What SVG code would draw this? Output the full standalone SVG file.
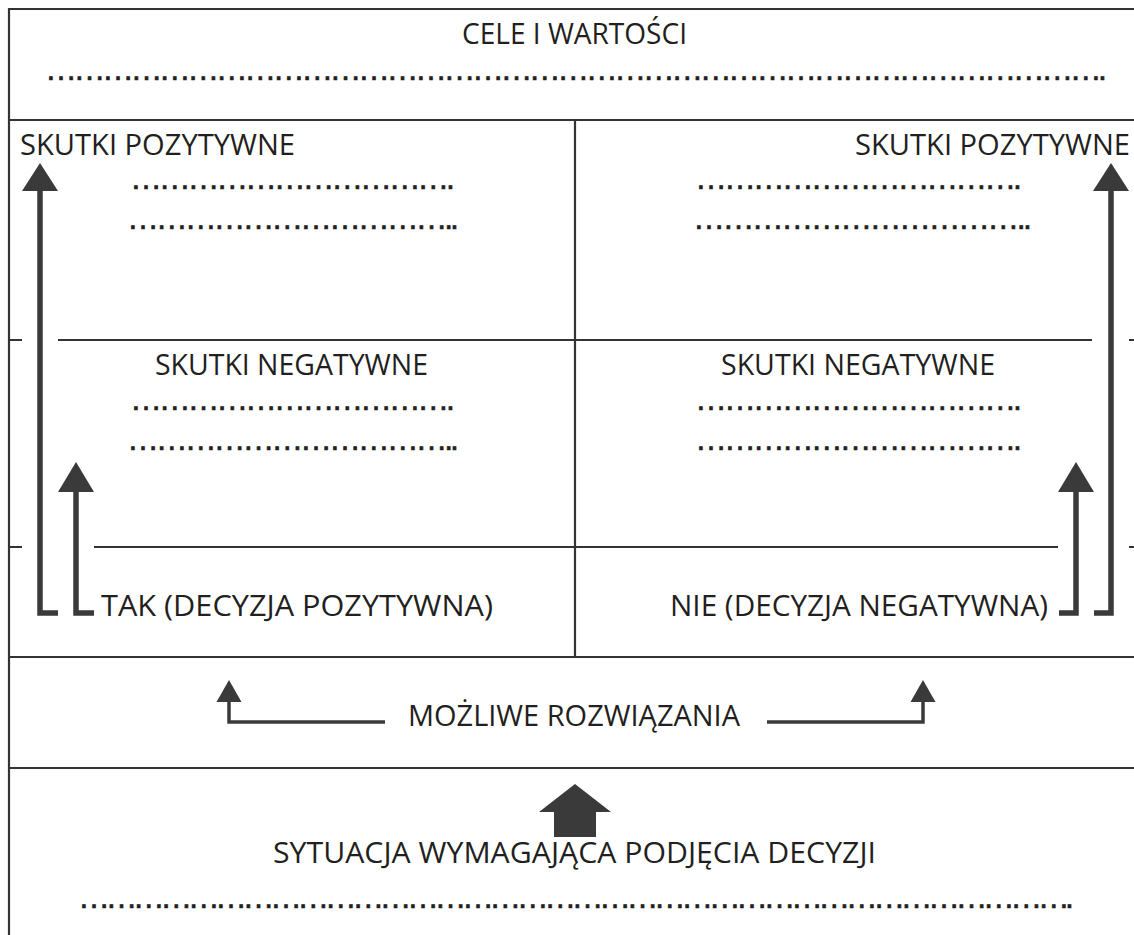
<svg xmlns="http://www.w3.org/2000/svg" width="1134" height="935" viewBox="0 0 1134 935">
<style>
.ln{stroke:#333;stroke-width:2.2;fill:none}
.ar{stroke:#3a3a3a;stroke-width:5.5;fill:none;stroke-linejoin:miter}
.ars{stroke:#3a3a3a;stroke-width:3.5;fill:none;stroke-linejoin:miter}
.hd{fill:#3a3a3a}
.t{font-family:"Open Sans","Noto Sans",sans-serif;font-size:28.5px;fill:#231f20}
.d{font-family:"Liberation Sans",Arial,sans-serif;font-size:32px;fill:#231f20;stroke:#231f20;stroke-width:0.6}
</style>
<rect width="1134" height="935" fill="#fff"/>
<g id="frame">
<path class="ln" d="M9,935 V9 H1134"/>
<path class="ln" d="M9,120 H1134"/>
<path class="ln" d="M575,120 V657"/>
<path class="ln" d="M9,340 H22 M58,340 H1092 M1129,340 H1134"/>
<path class="ln" d="M9,547 H22 M94,547 H1058 M1129,547 H1134"/>
<path class="ln" d="M9,657 H1134"/>
<path class="ln" d="M9,768 H1134"/>
</g>
<g id="cele">
<text class="t" x="462" y="44" textLength="225" lengthAdjust="spacingAndGlyphs">CELE I WARTOŚCI</text>
<text class="d" x="45" y="80" textLength="1062" lengthAdjust="spacing">………………………………………………………………………………………………….</text>
</g>
<g id="pos-left">
<text class="t" x="20" y="155" textLength="275" lengthAdjust="spacingAndGlyphs">SKUTKI POZYTYWNE</text>
<text class="d" x="130" y="189" textLength="325" lengthAdjust="spacing">…………………………….</text>
<text class="d" x="127" y="229" textLength="332" lengthAdjust="spacing">……………………………..</text>
</g>
<g id="pos-right">
<text class="t" x="855" y="155" textLength="275" lengthAdjust="spacingAndGlyphs">SKUTKI POZYTYWNE</text>
<text class="d" x="695" y="189" textLength="327" lengthAdjust="spacing">…………………………….</text>
<text class="d" x="693" y="229" textLength="339" lengthAdjust="spacing">……………………………..</text>
</g>
<g id="neg-left">
<text class="t" x="155" y="375" textLength="273" lengthAdjust="spacingAndGlyphs">SKUTKI NEGATYWNE</text>
<text class="d" x="130" y="410" textLength="325" lengthAdjust="spacing">…………………………….</text>
<text class="d" x="127" y="450" textLength="332" lengthAdjust="spacing">……………………………..</text>
</g>
<g id="neg-right">
<text class="t" x="721" y="375" textLength="274" lengthAdjust="spacingAndGlyphs">SKUTKI NEGATYWNE</text>
<text class="d" x="695" y="410" textLength="327" lengthAdjust="spacing">…………………………….</text>
<text class="d" x="695" y="450" textLength="327" lengthAdjust="spacing">…………………………….</text>
</g>
<g id="tak">
<text class="t" x="101" y="616" textLength="392" lengthAdjust="spacingAndGlyphs">TAK (DECYZJA POZYTYWNA)</text>
</g>
<g id="nie">
<text class="t" x="670" y="616" textLength="378" lengthAdjust="spacingAndGlyphs">NIE (DECYZJA NEGATYWNA)</text>
</g>
<g id="rozwiazania">
<text class="t" x="408" y="726" textLength="332" lengthAdjust="spacingAndGlyphs">MOŻLIWE ROZWIĄZANIA</text>
</g>
<g id="sytuacja">
<text class="t" x="273" y="863" textLength="603" lengthAdjust="spacingAndGlyphs">SYTUACJA WYMAGAJĄCA PODJĘCIA DECYZJI</text>
<text class="d" x="78" y="908" textLength="996" lengthAdjust="spacing">……………………………………………………………………………………………….</text>
</g>
<g id="connectors">
<path class="ar" d="M58,613 H40 V188"/>
<polygon class="hd" points="40,163 22,191 58,191"/>
<path class="ar" d="M94,613 H76 V490"/>
<polygon class="hd" points="76,462 58,492 94,492"/>
<path class="ar" d="M1059,613 H1076 V490"/>
<polygon class="hd" points="1076,462 1058,492 1094,492"/>
<path class="ar" d="M1094,613 H1111 V188"/>
<polygon class="hd" points="1111,163 1093,191 1129,191"/>
<path class="ars" d="M385,722 H229 V700"/>
<polygon class="hd" points="229,680 216.5,702 241.5,702"/>
<path class="ars" d="M767,722 H923 V700"/>
<polygon class="hd" points="923,680 910.5,702 935.5,702"/>
<polygon class="hd" points="575,784 611,812 596,812 596,837 554,837 554,812 539,812"/>
</g>
</svg>
